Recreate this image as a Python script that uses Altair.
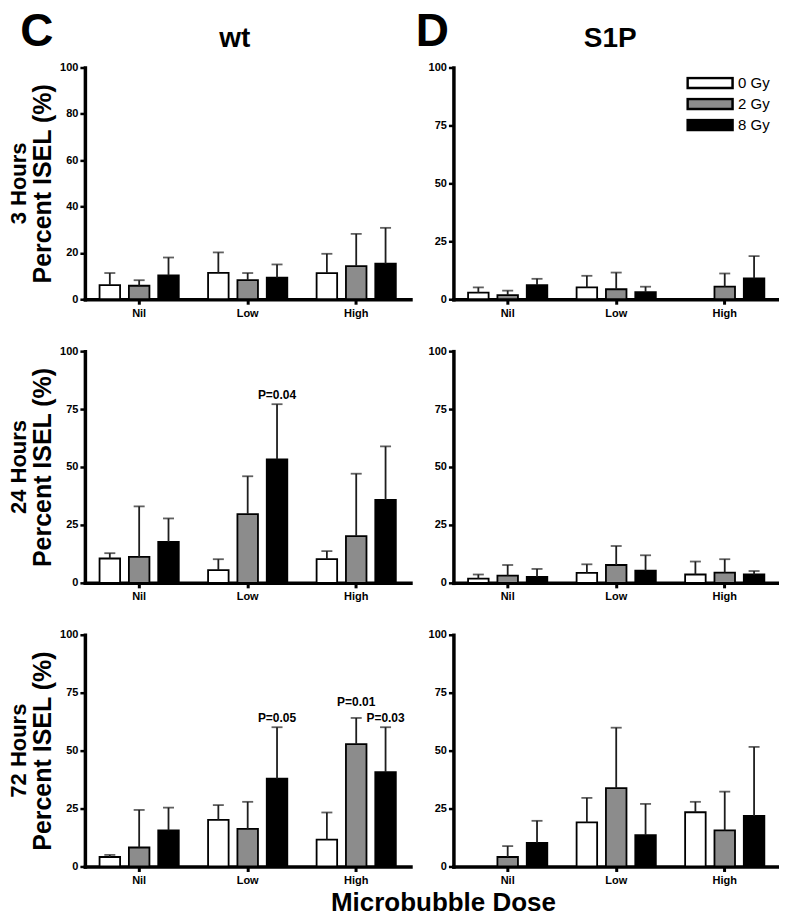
import altair as alt
import pandas as pd

FONT = "Liberation Sans"

categories = ["Nil", "Low", "High"]
doses = ["0 Gy", "2 Gy", "8 Gy"]
row_labels = ["3 Hours", "24 Hours", "72 Hours"]
column_titles = ["wt", "S1P"]
panel_letters = ["C", "D"]
x_title = "Microbubble Dose"
y_title = "Percent ISEL (%)"

# order: Nil 0/2/8 Gy, Low 0/2/8 Gy, High 0/2/8 Gy ; "upper" = top of error bar
wt_3h_mean = [6.1, 5.8, 10.3, 11.4, 8.2, 9.3, 11.3, 14.3, 15.3]
wt_3h_upper = [11.3, 8.2, 18.0, 20.2, 11.3, 15.0, 19.6, 28.2, 30.8]
s1p_3h_mean = [2.8, 1.8, 6.1, 5.1, 4.3, 3.0, None, 5.4, 9.0]
s1p_3h_upper = [5.1, 3.7, 8.8, 10.1, 11.5, 5.4, None, 11.1, 18.6]
wt_24h_mean = [10.5, 11.2, 17.7, 5.5, 29.7, 53.3, 10.2, 20.2, 35.8]
wt_24h_upper = [12.8, 33.0, 27.8, 10.2, 46.0, 77.1, 13.7, 47.1, 58.9]
s1p_24h_mean = [1.8, 3.1, 2.6, 4.3, 7.7, 5.3, 3.6, 4.4, 3.6]
s1p_24h_upper = [3.6, 7.7, 6.0, 8.0, 15.9, 11.9, 9.2, 10.2, 5.1]
wt_72h_mean = [4.1, 8.2, 15.6, 20.1, 16.2, 37.9, 11.6, 52.8, 40.7]
wt_72h_upper = [5.0, 24.4, 25.4, 26.5, 27.9, 60.1, 23.3, 64.1, 60.1]
s1p_72h_mean = [None, 4.1, 10.2, 19.0, 33.8, 13.5, 23.4, 15.6, 21.8]
s1p_72h_upper = [None, 8.8, 19.7, 29.6, 59.9, 27.0, 27.9, 32.3, 51.6]

wt_24h_pvalues = [("Low", "8 Gy", "P=0.04")]
wt_72h_pvalues = [("Low", "8 Gy", "P=0.05"), ("High", "2 Gy", "P=0.01"),
                  ("High", "8 Gy", "P=0.03")]

ticks_3h_wt = [0, 20, 40, 60, 80, 100]
ticks_std = [0, 25, 50, 75, 100]

W, H = 326, 232
fill_colors = ["#ffffff", "#8c8c8c", "#000000"]


def make_df(means, uppers):
    rows = []
    i = 0
    for c in categories:
        for d in doses:
            rows.append({"cat": c, "dose": d, "mean": means[i], "upper": uppers[i]})
            i += 1
    return pd.DataFrame(rows)


def label_layer(text, size, x, y, angle=0, baseline="middle", weight="bold"):
    return alt.Chart(pd.DataFrame({"t": [text]})).mark_text(
        font=FONT, fontSize=size, fontWeight=weight, angle=angle, color="black",
        baseline=baseline, align="center"
    ).encode(x=alt.value(x), y=alt.value(y), text="t:N")


def panel(means, uppers, yvals, row_label=None, letter=None, letter_x=-48,
          col_title=None, title_x=0, legend=False, pvals=None):
    df = make_df(means, uppers)
    base = alt.Chart(df).transform_filter("isValid(datum.mean)")
    x = alt.X("cat:N", sort=categories, title=None,
              scale=alt.Scale(paddingInner=0.27, paddingOuter=0.135),
              axis=alt.Axis(labelAngle=0, tickSize=5, tickWidth=3, labelPadding=3,
                            domainWidth=3.5, domainCap="square"))
    xo = alt.XOffset("dose:N", sort=doses,
                     scale=alt.Scale(paddingInner=0.3, paddingOuter=0))
    yaxis = alt.Axis(values=yvals, title=y_title if row_label else None,
                     tickSize=5, tickWidth=2.5, labelPadding=2, titlePadding=4,
                     domainWidth=3.5, domainCap="square")
    yscale = alt.Scale(domain=[0, 100], nice=False, zero=True)
    if legend:
        leg = alt.Legend(title=None, orient="top-right", offset=9,
                         symbolType="M-1,-0.22H1V0.22H-1Z", symbolSize=2025,
                         symbolStrokeColor="black", symbolStrokeWidth=2.5,
                         symbolOpacity=1, clipHeight=13,
                         labelFont=FONT, labelFontSize=15, labelColor="black",
                         rowPadding=5, labelOffset=4)
    else:
        leg = None
    bars = base.mark_bar(stroke="black", strokeWidth=1.8).encode(
        x=x, xOffset=xo,
        y=alt.Y("mean:Q", scale=yscale, axis=yaxis),
        fill=alt.Fill("dose:N", sort=doses,
                      scale=alt.Scale(domain=doses, range=fill_colors), legend=leg),
    )
    err = base.mark_rule(color="#1e1e1e", strokeWidth=1.8).encode(
        x=x, xOffset=xo, y=alt.Y("mean:Q", scale=yscale, axis=yaxis), y2="upper:Q")
    caps = base.mark_tick(color="#1e1e1e", thickness=1.8, size=11).encode(
        x=x, xOffset=xo, y=alt.Y("upper:Q", scale=yscale, axis=yaxis))
    layers = [bars, err, caps]
    if pvals:
        prow = []
        for c, d, lab in pvals:
            idx = categories.index(c) * 3 + doses.index(d)
            prow.append({"cat": c, "dose": d, "upper": uppers[idx], "label": lab})
        pdf = pd.DataFrame(prow)
        pbase = alt.Chart(pdf)
        for sel, dy in [("datum.label != 'P=0.01'", -9), ("datum.label == 'P=0.01'", -16)]:
            layers.append(
                pbase.transform_filter(sel).mark_text(
                    font=FONT, fontSize=12, fontWeight="bold", color="black", dy=dy
                ).encode(x=x, xOffset=xo,
                         y=alt.Y("upper:Q", scale=yscale, axis=yaxis),
                         text="label:N"))
    if row_label:
        layers.append(label_layer(row_label, 22, -66, H / 2, angle=270))
    if letter:
        layers.append(label_layer(letter, 46, letter_x, -22, baseline="alphabetic"))
    if col_title:
        layers.append(label_layer(col_title, 28, title_x, -21, baseline="alphabetic"))
    return alt.layer(*layers).properties(width=W, height=H)


charts = [
    panel(wt_3h_mean, wt_3h_upper, ticks_3h_wt, row_label=row_labels[0],
          letter=panel_letters[0], letter_x=-48, col_title=column_titles[0], title_x=150),
    panel(s1p_3h_mean, s1p_3h_upper, ticks_std, letter=panel_letters[1], letter_x=-21,
          col_title=column_titles[1], title_x=157, legend=True),
    panel(wt_24h_mean, wt_24h_upper, ticks_std, row_label=row_labels[1],
          pvals=wt_24h_pvalues),
    panel(s1p_24h_mean, s1p_24h_upper, ticks_std),
    panel(wt_72h_mean, wt_72h_upper, ticks_std, row_label=row_labels[2],
          pvals=wt_72h_pvalues),
    panel(s1p_72h_mean, s1p_72h_upper, ticks_std),
]

chart = alt.concat(*charts, columns=2, spacing={"row": 27, "column": 5}).resolve_scale(
    fill="independent").resolve_legend(fill="independent").properties(
    title=alt.TitleParams(x_title, orient="bottom", anchor="middle", fontSize=26,
                          font=FONT, fontWeight="bold", offset=5, dx=50, color="black"),
    padding=0,
).configure_view(stroke=None).configure_axis(
    grid=False, domainColor="black", tickColor="black",
    labelFont=FONT, labelFontWeight="bold", labelFontSize=11, labelColor="black",
    titleFont=FONT, titleFontWeight="bold", titleFontSize=25, titleColor="black",
)

chart.save("out.html", embed_options={"renderer": "svg", "actions": False})
